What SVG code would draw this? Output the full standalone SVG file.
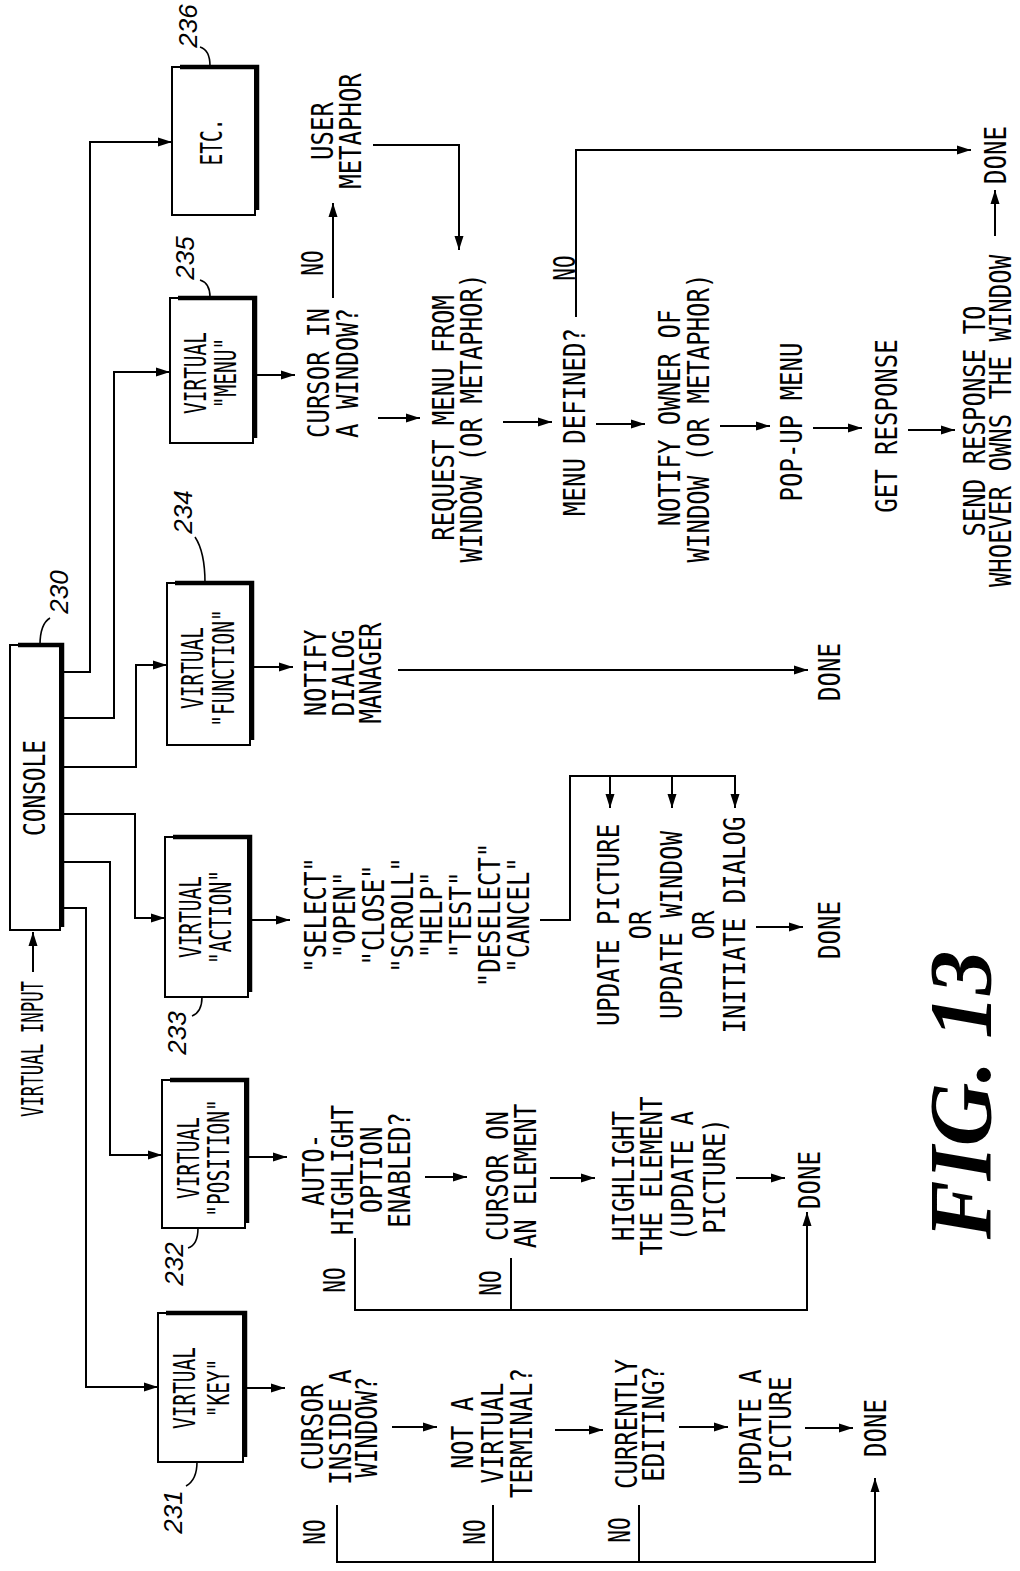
<svg xmlns="http://www.w3.org/2000/svg" width="1020" height="1571" viewBox="0 0 1020 1571">
<style>
.t{font-family:"DejaVu Sans Mono","Liberation Mono",monospace;font-size:30px;fill:#000;text-anchor:middle}
.n{font-family:"Liberation Sans",Arial,sans-serif;font-style:italic;font-size:26px;fill:#000;text-anchor:middle}
.fig{font-family:"Liberation Serif","Times New Roman",serif;font-style:italic;font-weight:bold;font-size:88px;fill:#000;text-anchor:middle}
.box{fill:#fff;stroke:#000;stroke-width:2}
.sh{stroke:#000;stroke-width:4.5;fill:none}
.ln{stroke:#000;stroke-width:2;fill:none}
.ar{stroke:#000;stroke-width:2;fill:none;marker-end:url(#ah)}
.ld{stroke:#000;stroke-width:1.6;fill:none}
</style>
<defs>
<marker id="ah" markerWidth="14" markerHeight="10" refX="14" refY="5" orient="auto" markerUnits="userSpaceOnUse"><path d="M0,0.5 L14,5 L0,9.5 Z" fill="#000"/></marker>
</defs>
<rect width="1020" height="1571" fill="#fff"/>

<g id="connectors">
<path class="ar" d="M33,972 V932"/>
<path class="ar" d="M62,672 H90 V142 H172"/>
<path class="ar" d="M62,718 H114 V372 H170"/>
<path class="ar" d="M62,767 H136 V665 H167"/>
<path class="ar" d="M62,814 H135 V918 H165"/>
<path class="ar" d="M62,862 H110 V1155 H162"/>
<path class="ar" d="M62,908 H86 V1387 H158"/>
<path class="ar" d="M253,375 H295"/>
<path class="ar" d="M250,667 H293"/>
<path class="ar" d="M248,920 H290"/>
<path class="ar" d="M245,1157 H287"/>
<path class="ar" d="M243,1388 H285"/>
<path class="ar" d="M333,298 V203"/>
<path class="ar" d="M373,145 H459 V250"/>
<path class="ar" d="M378,418 H420"/>
<path class="ar" d="M503,422 H552"/>
<path class="ar" d="M596,424 H645"/>
<path class="ar" d="M576,317 V150 H971"/>
<path class="ar" d="M720,426 H770"/>
<path class="ar" d="M813,428 H862"/>
<path class="ar" d="M908,430 H955"/>
<path class="ar" d="M995,236 V190"/>
<path class="ar" d="M398,670 H808"/>
<path class="ar" d="M540,920 H570 V776 H735 V808"/>
<path class="ar" d="M610,776 V808"/>
<path class="ar" d="M672,776 V808"/>
<path class="ar" d="M756,927 H803"/>
<path class="ar" d="M425,1177 H467"/>
<path class="ar" d="M550,1178 H595"/>
<path class="ar" d="M736,1178 H785"/>
<path class="ar" d="M355,1238 V1310 H807 V1212"/>
<path class="ln" d="M511,1258 V1310"/>
<path class="ar" d="M392,1427 H437"/>
<path class="ar" d="M555,1430 H603"/>
<path class="ar" d="M679,1427 H728"/>
<path class="ar" d="M805,1428 H853"/>
<path class="ar" d="M337,1505 V1562 H875 V1478"/>
<path class="ln" d="M493,1505 V1562"/>
<path class="ln" d="M639,1505 V1562"/>
<path class="ld" d="M40,645 Q40,624 50,618"/>
<path class="ld" d="M210,66 Q210,50 200,47"/>
<path class="ld" d="M210,297 Q210,283 200,280"/>
<path class="ld" d="M205,583 Q205,552 195,537"/>
<path class="ld" d="M202,997 Q202,1012 192,1016"/>
<path class="ld" d="M198,1228 Q198,1245 188,1248"/>
<path class="ld" d="M197,1462 Q197,1480 186,1486"/>
</g>

<g id="virtual-input">
<text class="t" transform="translate(0,1049) rotate(-90) scale(0.58,1)"><tspan x="0" y="43">VIRTUAL INPUT</tspan></text>
</g>

<g id="console">
<rect class="box" x="10" y="645" width="50" height="285"/>
<path class="sh" d="M18,645 H62 V927"/>
<text class="t" transform="translate(0,788) rotate(-90) scale(0.76,1)"><tspan x="0" y="45">CONSOLE</tspan></text>
<text class="n" transform="translate(0,592) rotate(-90)"><tspan x="0" y="68">230</tspan></text>
</g>

<g id="n236">
<rect class="box" x="172" y="67" width="83" height="148"/>
<path class="sh" d="M180,67 H257 V210"/>
<text class="t" transform="translate(0,142) rotate(-90) scale(0.65,1)"><tspan x="0" y="222">ETC.</tspan></text>
<text class="n" transform="translate(0,26) rotate(-90)"><tspan x="0" y="197">236</tspan></text>
</g>

<g id="n235">
<rect class="box" x="170" y="298" width="83" height="145"/>
<path class="sh" d="M178,298 H255 V438"/>
<text class="t" transform="translate(0,373) rotate(-90) scale(0.65,1)"><tspan x="0" y="206">VIRTUAL</tspan><tspan x="0" y="236">"MENU"</tspan></text>
<text class="n" transform="translate(0,258) rotate(-90)"><tspan x="0" y="194">235</tspan></text>
</g>

<g id="n234">
<rect class="box" x="167" y="583" width="83" height="162"/>
<path class="sh" d="M175,583 H252 V740"/>
<text class="t" transform="translate(0,668) rotate(-90) scale(0.65,1)"><tspan x="0" y="203">VIRTUAL</tspan><tspan x="0" y="234">"FUNCTION"</tspan></text>
<text class="n" transform="translate(0,512) rotate(-90)"><tspan x="0" y="192">234</tspan></text>
</g>

<g id="n233">
<rect class="box" x="165" y="837" width="83" height="160"/>
<path class="sh" d="M173,837 H250 V992"/>
<text class="t" transform="translate(0,917) rotate(-90) scale(0.65,1)"><tspan x="0" y="201">VIRTUAL</tspan><tspan x="0" y="231">"ACTION"</tspan></text>
<text class="n" transform="translate(0,1033) rotate(-90)"><tspan x="0" y="186">233</tspan></text>
</g>

<g id="n232">
<rect class="box" x="162" y="1080" width="83" height="148"/>
<path class="sh" d="M170,1080 H247 V1223"/>
<text class="t" transform="translate(0,1158) rotate(-90) scale(0.65,1)"><tspan x="0" y="199">VIRTUAL</tspan><tspan x="0" y="229">"POSITION"</tspan></text>
<text class="n" transform="translate(0,1264) rotate(-90)"><tspan x="0" y="183">232</tspan></text>
</g>

<g id="n231">
<rect class="box" x="158" y="1313" width="85" height="149"/>
<path class="sh" d="M166,1313 H245 V1457"/>
<text class="t" transform="translate(0,1388) rotate(-90) scale(0.65,1)"><tspan x="0" y="195">VIRTUAL</tspan><tspan x="0" y="229">"KEY"</tspan></text>
<text class="n" transform="translate(0,1512) rotate(-90)"><tspan x="0" y="182">231</tspan></text>
</g>

<g id="menu-flow">
<text class="t" transform="translate(0,373) rotate(-90) scale(0.8,1)"><tspan x="0" y="329">CURSOR IN</tspan><tspan x="0" y="358">A WINDOW?</tspan></text>
<text class="t" transform="translate(0,263) rotate(-90) scale(0.7,1)"><tspan x="0" y="323">NO</tspan></text>
<text class="t" transform="translate(0,131) rotate(-90) scale(0.8,1)"><tspan x="0" y="333">USER</tspan><tspan x="0" y="361">METAPHOR</tspan></text>
<text class="t" transform="translate(0,418) rotate(-90) scale(0.8,1)"><tspan x="0" y="454">REQUEST MENU FROM</tspan><tspan x="0" y="482">WINDOW (OR METAPHOR)</tspan></text>
<text class="t" transform="translate(0,268) rotate(-90) scale(0.7,1)"><tspan x="0" y="575">NO</tspan></text>
<text class="t" transform="translate(0,422) rotate(-90) scale(0.8,1)"><tspan x="0" y="585">MENU DEFINED?</tspan></text>
<text class="t" transform="translate(0,418) rotate(-90) scale(0.8,1)"><tspan x="0" y="680">NOTIFY OWNER OF</tspan><tspan x="0" y="709">WINDOW (OR METAPHOR)</tspan></text>
<text class="t" transform="translate(0,422) rotate(-90) scale(0.8,1)"><tspan x="0" y="802">POP-UP MENU</tspan></text>
<text class="t" transform="translate(0,426) rotate(-90) scale(0.8,1)"><tspan x="0" y="897">GET RESPONSE</tspan></text>
<text class="t" transform="translate(0,421) rotate(-90) scale(0.8,1)"><tspan x="0" y="985">SEND RESPONSE TO</tspan><tspan x="0" y="1011">WHOEVER OWNS THE WINDOW</tspan></text>
<text class="t" transform="translate(0,155) rotate(-90) scale(0.8,1)"><tspan x="0" y="1006">DONE</tspan></text>
</g>

<g id="function-flow">
<text class="t" transform="translate(0,673) rotate(-90) scale(0.8,1)"><tspan x="0" y="326">NOTIFY</tspan><tspan x="0" y="354">DIALOG</tspan><tspan x="0" y="381">MANAGER</tspan></text>
<text class="t" transform="translate(0,672) rotate(-90) scale(0.8,1)"><tspan x="0" y="840">DONE</tspan></text>
</g>

<g id="action-flow">
<text class="t" transform="translate(0,915) rotate(-90) scale(0.8,1)"><tspan x="0" y="326">"SELECT"</tspan><tspan x="0" y="355">"OPEN"</tspan><tspan x="0" y="384">"CLOSE"</tspan><tspan x="0" y="413">"SCROLL"</tspan><tspan x="0" y="442">"HELP"</tspan><tspan x="0" y="471">"TEST"</tspan><tspan x="0" y="500">"DESELECT"</tspan><tspan x="0" y="529">"CANCEL"</tspan></text>
<text class="t" transform="translate(0,925) rotate(-90) scale(0.8,1)"><tspan x="0" y="619">UPDATE PICTURE</tspan><tspan x="0" y="651">OR</tspan><tspan x="0" y="682">UPDATE WINDOW</tspan><tspan x="0" y="714">OR</tspan><tspan x="0" y="745">INITIATE DIALOG</tspan></text>
<text class="t" transform="translate(0,930) rotate(-90) scale(0.8,1)"><tspan x="0" y="840">DONE</tspan></text>
</g>

<g id="position-flow">
<text class="t" transform="translate(0,1170) rotate(-90) scale(0.8,1)"><tspan x="0" y="324">AUTO-</tspan><tspan x="0" y="353">HIGHLIGHT</tspan><tspan x="0" y="382">OPTION</tspan><tspan x="0" y="410">ENABLED?</tspan></text>
<text class="t" transform="translate(0,1176) rotate(-90) scale(0.8,1)"><tspan x="0" y="508">CURSOR ON</tspan><tspan x="0" y="536">AN ELEMENT</tspan></text>
<text class="t" transform="translate(0,1176) rotate(-90) scale(0.8,1)"><tspan x="0" y="634">HIGHLIGHT</tspan><tspan x="0" y="662">THE ELEMENT</tspan><tspan x="0" y="693">(UPDATE A</tspan><tspan x="0" y="725">PICTURE)</tspan></text>
<text class="t" transform="translate(0,1180) rotate(-90) scale(0.8,1)"><tspan x="0" y="820">DONE</tspan></text>
<text class="t" transform="translate(0,1280) rotate(-90) scale(0.7,1)"><tspan x="0" y="345">NO</tspan></text>
<text class="t" transform="translate(0,1283) rotate(-90) scale(0.7,1)"><tspan x="0" y="501">NO</tspan></text>
</g>

<g id="key-flow">
<text class="t" transform="translate(0,1427) rotate(-90) scale(0.8,1)"><tspan x="0" y="323">CURSOR</tspan><tspan x="0" y="351">INSIDE A</tspan><tspan x="0" y="377">WINDOW?</tspan></text>
<text class="t" transform="translate(0,1433) rotate(-90) scale(0.8,1)"><tspan x="0" y="473">NOT A</tspan><tspan x="0" y="503">VIRTUAL</tspan><tspan x="0" y="532">TERMINAL?</tspan></text>
<text class="t" transform="translate(0,1424) rotate(-90) scale(0.8,1)"><tspan x="0" y="637">CURRENTLY</tspan><tspan x="0" y="664">EDITING?</tspan></text>
<text class="t" transform="translate(0,1427) rotate(-90) scale(0.8,1)"><tspan x="0" y="761">UPDATE A</tspan><tspan x="0" y="791">PICTURE</tspan></text>
<text class="t" transform="translate(0,1428) rotate(-90) scale(0.8,1)"><tspan x="0" y="886">DONE</tspan></text>
<text class="t" transform="translate(0,1532) rotate(-90) scale(0.7,1)"><tspan x="0" y="325">NO</tspan></text>
<text class="t" transform="translate(0,1532) rotate(-90) scale(0.7,1)"><tspan x="0" y="485">NO</tspan></text>
<text class="t" transform="translate(0,1530) rotate(-90) scale(0.7,1)"><tspan x="0" y="630">NO</tspan></text>
</g>

<g id="figure-label">
<text class="fig" transform="translate(0,1095) rotate(-90)"><tspan x="0" y="990">FIG. 13</tspan></text>
</g>
</svg>
